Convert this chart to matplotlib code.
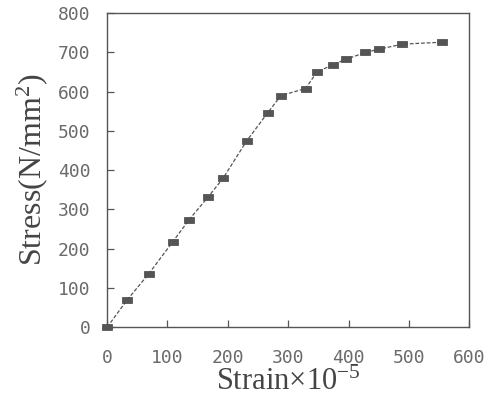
import matplotlib
matplotlib.use("Agg")
import matplotlib.pyplot as plt
from matplotlib.path import Path

plt.rcParams["mathtext.fontset"] = "custom"
plt.rcParams["mathtext.rm"] = "Liberation Serif"
plt.rcParams["mathtext.it"] = "Liberation Serif:italic"
plt.rcParams["mathtext.bf"] = "Liberation Serif:bold"

strain = [0, 33, 69, 109, 136, 167, 192, 231, 266, 288, 329, 347, 374, 395, 428, 450, 489, 555]
stress = [0, 69, 136, 218, 274, 331, 379, 474, 546, 590, 608, 649, 669, 682, 700, 708, 721, 726]
xticks = [0, 100, 200, 300, 400, 500, 600]
yticks = [0, 100, 200, 300, 400, 500, 600, 700, 800]

fig = plt.figure(figsize=(4.96, 4.11), dpi=100)
ax = fig.add_axes([0.216, 0.204, 0.730, 0.764])

rect = Path([(-1, -0.62), (1, -0.62), (1, 0.62), (-1, 0.62), (-1, -0.62)],
            [Path.MOVETO, Path.LINETO, Path.LINETO, Path.LINETO, Path.CLOSEPOLY])
ax.plot(strain, stress, color="#555555", lw=0.9, ls=(0, (3, 1.5)),
        marker=rect, markersize=7, markerfacecolor="#555555",
        markeredgecolor="#444444", markeredgewidth=0.5, clip_on=False)

ax.set_xlim(0, 600)
ax.set_ylim(0, 800)
ax.set_xticks(xticks)
ax.set_yticks(yticks)
mono = {"family": "DejaVu Sans Mono", "size": 13, "color": "#6a6a6a"}
ax.set_xticklabels([str(v) for v in xticks], fontdict=mono)
ax.set_yticklabels([str(v) for v in yticks], fontdict=mono)
ax.tick_params(axis="x", direction="in", length=5, width=0.9, color="#555555", pad=16)
ax.tick_params(axis="y", direction="in", length=5, width=0.9, color="#555555", pad=12)
ax.tick_params(top=False, right=False)
for s in ax.spines.values():
    s.set_color("#555555")
    s.set_linewidth(1.0)

ax.set_xlabel("Strain×10$^{\u22125}$", family="Liberation Serif", size=22,
              color="#444444", labelpad=0)
ax.set_ylabel("Stress(N/mm$^{2}$)", family="Liberation Serif", size=23,
              color="#444444", labelpad=6)

fig.savefig("out.png", dpi=100)
